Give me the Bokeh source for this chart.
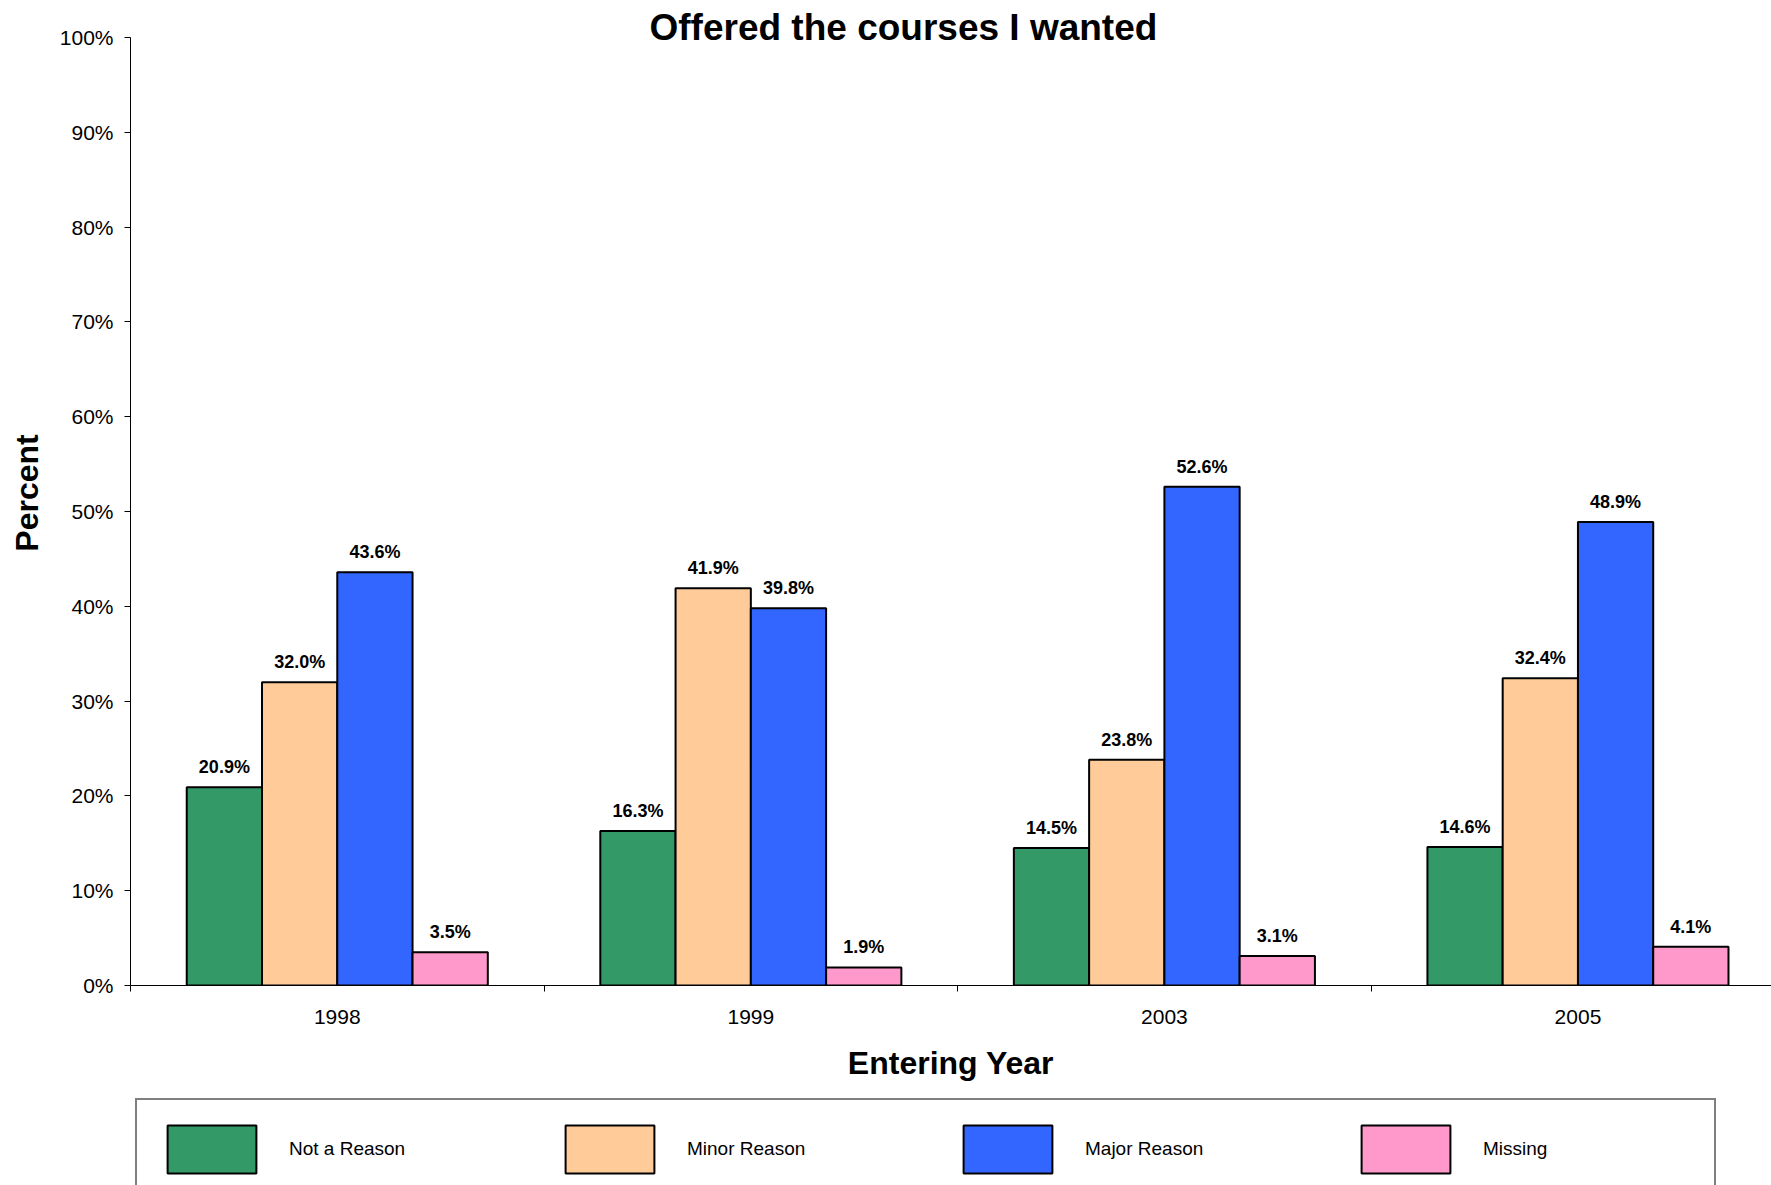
from bokeh.plotting import figure
from bokeh.layouts import column
from bokeh.models import (ColumnDataSource, Range1d, FixedTicker, Legend, LegendItem, Label)
from bokeh.core.properties import value
from bokeh.transform import dodge
from bokeh.embed import file_html
from bokeh.resources import INLINE

years = ["1998", "1999", "2003", "2005"]
not_a_reason = [20.9, 16.3, 14.5, 14.6]
minor_reason = [32.0, 41.9, 23.8, 32.4]
major_reason = [43.6, 39.8, 52.6, 48.9]
missing = [3.5, 1.9, 3.1, 4.1]
series_names = ["Not a Reason", "Minor Reason", "Major Reason", "Missing"]
series_colors = ["#339966", "#FFCC99", "#3366FF", "#FF99CC"]
y_ticks = [0, 10, 20, 30, 40, 50, 60, 70, 80, 90, 100]

FONT = "Liberation Sans"
centers = [i + 0.5 for i in range(len(years))]
series_values = [not_a_reason, minor_reason, major_reason, missing]

p = figure(width=1771, height=1095, output_backend="svg", toolbar_location=None,
           x_range=Range1d(0, 3.968), y_range=Range1d(0, 103.9),
           min_border_left=130, min_border_top=0, min_border_bottom=110, min_border_right=0)
p.outline_line_color = None
p.xgrid.visible = False
p.ygrid.visible = False

bw = 0.182
offsets = [-1.5 * bw, -0.5 * bw, 0.5 * bw, 1.5 * bw]
sources = []
for name, vals, col, off in zip(series_names, series_values, series_colors, offsets):
    src = ColumnDataSource(dict(x=centers, y=vals, lab=[f"{v:.1f}%" for v in vals]))
    sources.append(src)
    p.vbar(x=dodge("x", off), top="y", width=bw, source=src,
           fill_color=col, line_color="black", line_width=2)
    p.text(x=dodge("x", off), y="y", text="lab", source=src,
           text_align="center", text_baseline="bottom", y_offset=-10,
           text_font=value(FONT), text_font_style="bold", text_font_size="18px",
           text_color="black")

# x axis
xa = p.xaxis[0]
xa.ticker = FixedTicker(ticks=centers, minor_ticks=[0, 1, 2, 3, 4])
xa.major_label_overrides = {c: y for c, y in zip(centers, years)}
xa.major_tick_out = 0
xa.major_tick_in = 0
xa.minor_tick_out = 6
xa.minor_tick_in = 0
xa.minor_tick_line_color = "black"
xa.axis_line_color = "black"
xa.major_label_standoff = 18
xa.major_label_text_font = FONT
xa.major_label_text_font_size = "21px"
xa.major_label_text_color = "black"
xa.axis_label = "Entering Year"
xa.axis_label_text_font = FONT
xa.axis_label_text_font_style = "bold"
xa.axis_label_text_font_size = "32px"
xa.axis_label_text_color = "black"
xa.axis_label_standoff = 18

# y axis
ya = p.yaxis[0]
ya.ticker = FixedTicker(ticks=y_ticks, minor_ticks=[])
ya.bounds = (0, 100)
ya.major_label_overrides = {t: f"{t}%" for t in y_ticks}
ya.major_tick_out = 6
ya.major_tick_in = 0
ya.minor_tick_out = 0
ya.minor_tick_in = 0
ya.axis_line_color = "black"
ya.major_tick_line_color = "black"
ya.major_label_standoff = 11
ya.major_label_text_font = FONT
ya.major_label_text_font_size = "21px"
ya.major_label_text_color = "black"
ya.axis_label = "Percent"
ya.axis_label_text_font = FONT
ya.axis_label_text_font_style = "bold"
ya.axis_label_text_font_size = "32px"
ya.axis_label_text_color = "black"
ya.axis_label_standoff = 12

title = Label(x=1.869, y=101.05, text="Offered the courses I wanted",
              text_align="center", text_baseline="middle",
              text_font=FONT, text_font_style="bold", text_font_size="37px", text_color="black")
p.add_layout(title)

# legend strip
pl = figure(width=1771, height=90, output_backend="svg", toolbar_location=None,
            x_range=Range1d(0, 1), y_range=Range1d(0, 1),
            x_axis_location=None, y_axis_location=None,
            min_border_left=0, min_border_top=0, min_border_bottom=0, min_border_right=0)
pl.outline_line_color = None
pl.xgrid.visible = False
pl.ygrid.visible = False
items = []
for name, src, col in zip(series_names, sources, series_colors):
    r = pl.vbar(x="x", top="y", width=bw, source=src,
                fill_color=col, line_color="black", line_width=2, visible=False)
    items.append(LegendItem(label=name, renderers=[r]))

legend = Legend(items=items, orientation="horizontal", location=(5, -15),
                glyph_width=111, glyph_height=60, label_standoff=22,
                label_width=212, spacing=53, padding=19, margin=0,
                label_text_font=FONT, label_text_font_size="19px", label_text_color="black",
                label_text_baseline="bottom",
                border_line_color="black", border_line_width=2,
                background_fill_color="white", background_fill_alpha=1)
pl.add_layout(legend, "center")

open("out.html", "w").write(file_html(column(p, pl, spacing=0), INLINE))
